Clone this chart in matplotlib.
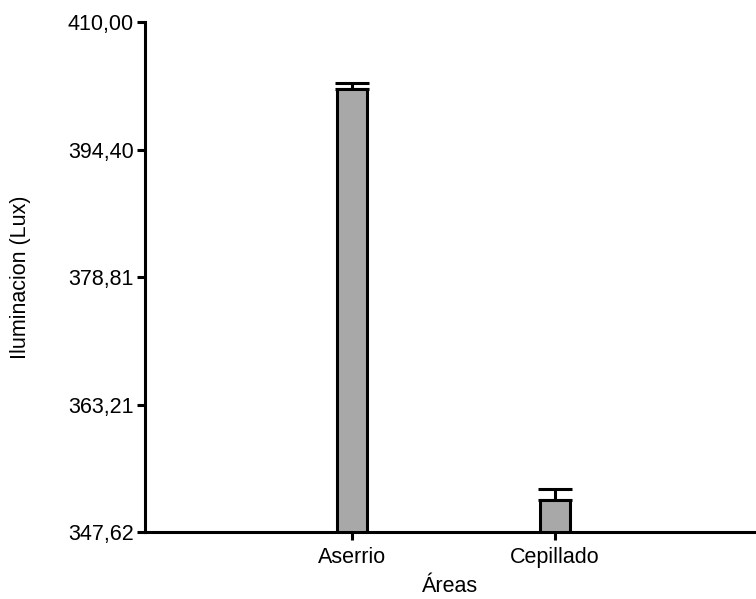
import matplotlib.pyplot as plt

# Mean illumination per area with its error
areas = ['Aserrio', 'Cepillado']
means = [401.77, 351.53]
errors = [0.81, 1.31]

y_ticks = [347.62, 363.21, 378.81, 394.40, 410.00]
y_tick_labels = ['347,62', '363,21', '378,81', '394,40', '410,00']

plt.rcParams['font.family'] = ['Liberation Sans', 'DejaVu Sans']

fig = plt.figure(figsize=(7.56, 5.99), dpi=100)
ax = fig.add_axes([0.1918, 0.1119, 0.8082, 0.8514])

positions = [1, 2]
ax.bar(positions, means, width=0.147, color='#a8a8a8', edgecolor='black',
       linewidth=2.2, zorder=2)
ax.errorbar(positions, means, yerr=[[0, 0], errors], fmt='none',
            ecolor='black', elinewidth=2.2, capsize=11.9, capthick=2.2, zorder=1)

ax.set_xlim(-0.017, 2.99)
ax.set_ylim(347.62, 410.00)
ax.set_xticks(positions)
ax.set_xticklabels(areas)
ax.set_yticks(y_ticks)
ax.set_yticklabels(y_tick_labels)

ax.spines['top'].set_visible(False)
ax.spines['right'].set_visible(False)
ax.spines['left'].set_linewidth(2.2)
ax.spines['bottom'].set_linewidth(2.2)
ax.tick_params(axis='both', direction='out', length=6, width=2.2,
               labelsize=15.5)
ax.tick_params(axis='y', pad=2)
ax.tick_params(axis='x', pad=4.5)

ax.set_xlabel('Áreas', fontsize=15.5)
ax.set_ylabel('Iluminacion (Lux)', fontsize=15.5)
ax.xaxis.set_label_coords(0.5, -0.087)
ax.yaxis.set_label_coords(-0.187, 0.5)

fig.savefig('out.png', dpi=100)
